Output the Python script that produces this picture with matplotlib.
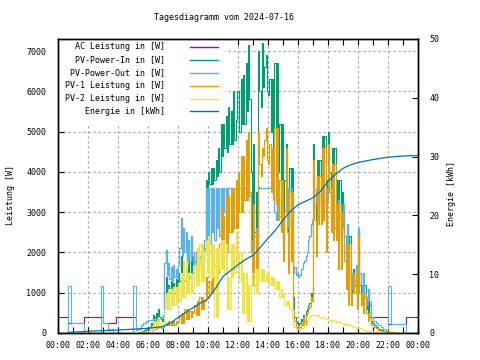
import numpy as np
import matplotlib
matplotlib.use("Agg")
import matplotlib.pyplot as plt
from matplotlib.lines import Line2D
from matplotlib.patches import Rectangle
from matplotlib.ticker import MultipleLocator, FuncFormatter

plt.rcParams["font.family"] = ["DejaVu Sans Mono"]
plt.rcParams["font.size"] = 6

title = "Tagesdiagramm vom 2024-07-16"
labels = ["AC Leistung in [W]", "PV-Power-In in [W]", "PV-Power-Out in [W]",
          "PV-1 Leistung in [W]", "PV-2 Leistung in [W]", "Energie in [kWh]"]
colors = ["#9400d3", "#009e73", "#56b4e9", "#e69f00", "#f0e442", "#0072b2"]

# 5-Minuten-Werte 00:00 .. 24:00 (eine Zeile = eine Stunde)
ac_leistung = [
    390, 390, 390, 390, 390, 390, 390, 390, 250, 250, 250, 250,
    250, 250, 250, 250, 250, 250, 250, 250, 250, 390, 390, 390,
    390, 390, 390, 390, 390, 390, 390, 390, 390, 390, 390, 390,
    250, 250, 250, 250, 250, 250, 250, 250, 250, 250, 390, 390,
    390, 390, 390, 390, 390, 390, 390, 390, 390, 390, 390, 390,
    390, 390, 80, 80, 100, 100, 200, 200, 250, 250, 300, 300,
    320, 320, 330, 330, 390, 390, 390, 390, 390, 390, 390, 400,
    450, 1730, 2050, 1450, 1750, 1350, 1650, 1300, 1700, 1400, 1600, 1350,
    1700, 2100, 2850, 1900, 2600, 2000, 2500, 1700, 2300, 1800, 2400, 1900,
    1700, 2000, 1600, 2100, 1700, 1900, 1600, 2000, 1800, 2300, 3620, 2300,
    3600, 2200, 3600, 2500, 3600, 2300, 3600, 2600, 3600, 2400, 3600, 2800,
    3600, 3000, 3600, 3400, 3600, 3600, 3600, 3600, 3500, 3600, 3600, 3600,
    3600, 3600, 3500, 3600, 3600, 3600, 3600, 3600, 3600, 3400, 2000, 2300,
    2100, 2400, 2600, 2200, 3620, 3600, 3600, 3600, 3600, 3600, 3600, 3600,
    3600, 3600, 3600, 3600, 3600, 3000, 2800, 3500, 3400, 2900, 2600, 3200,
    2200, 3000, 3600, 3600, 2600, 3600, 3600, 2500, 1500, 1650, 1450, 1500,
    1400, 1450, 1600, 1600, 1750, 1800, 1900, 2000, 2300, 2400, 2700, 2800,
    2850, 3200, 3600, 3600, 3000, 3400, 3600, 3600, 3500, 3300, 3100, 3600,
    3600, 3500, 2800, 3200, 3500, 2600, 3000, 2600, 3300, 2900, 2400, 2800,
    3200, 2400, 1800, 2700, 2200, 1400, 1100, 1500, 1100, 1300, 1700, 1000,
    2600, 1500, 1200, 1000, 1500, 900, 900, 700, 1100, 400, 400, 400,
    400, 400, 400, 400, 400, 400, 400, 400, 400, 400, 400, 400,
    230, 230, 230, 230, 230, 230, 230, 230, 230, 230, 230, 230,
    230, 230, 390, 390, 390, 390, 390, 390, 390, 390, 390, 390,
    390]

pv_in = [0] * 60 + [
    0, 0, 0, 0, 10, 20, 30, 50, 60, 80, 90, 100,
    100, 150, 250, 200, 450, 300, 500, 350, 600, 400, 350, 300,
    400, 1000, 1400, 900, 1200, 1000, 1300, 950, 1250, 1000, 1350, 1100,
    1500, 1300, 1900, 1400, 1700, 1300, 1800, 1300, 1900, 1400, 2000, 1500,
    1500, 1800, 1400, 2000, 1400, 1900, 1500, 1900, 1600, 2100, 3800, 3600,
    4000, 3700, 4100, 3700, 4100, 3800, 4300, 3900, 4600, 4000, 5200, 4400,
    5200, 4600, 5400, 4500, 5600, 4700, 5500, 4700, 6000, 4800, 5300, 6000,
    6000, 5000, 6300, 5200, 6400, 5200, 6700, 5500, 7150, 5800, 4000, 2200,
    4700, 2500, 3500, 2500, 7000, 6000, 5600, 7200, 6100, 6600, 6900, 6000,
    5900, 6300, 5000, 6300, 4500, 6700, 4200, 6700, 4000, 5200, 3500, 5200,
    2500, 3800, 4700, 3300, 2200, 4100, 2000, 4100, 900, 400, 300, 250,
    200, 250, 350, 300, 450, 300, 550, 600, 700, 750, 1000, 900,
    4700, 3200, 2500, 4300, 3000, 4300, 3200, 4900, 3200, 4900, 2400, 3800,
    5000, 4000, 3000, 4600, 2800, 4600, 2800, 3800, 2200, 3800, 2200, 3500,
    2800, 2000, 1300, 2400, 900, 2400, 900, 1200, 1600, 1200, 1600, 700,
    2500, 1200, 900, 1200, 600, 1200, 600, 700, 400, 700, 300, 250,
    250, 200, 150, 150, 100, 100, 80, 80, 50, 50, 30, 30,
    20, 20, 20, 20, 20, 20, 0, 0, 0, 0, 0, 0,
] + [0] * 13

pv_out = [
    0, 0, 0, 0, 0, 0, 0, 0, 1170, 1170, 250, 250,
    250, 250, 250, 250, 250, 250, 250, 250, 250, 0, 0, 0,
    0, 0, 0, 0, 0, 0, 0, 0, 0, 0, 1170, 1170,
    250, 250, 250, 250, 100, 100, 100, 100, 0, 0, 0, 0,
    0, 0, 0, 0, 0, 0, 0, 0, 0, 0, 0, 0,
    1170, 1170, 80, 80, 100, 100, 200, 200, 250, 250, 300, 300,
    320, 320, 330, 330, 340, 350, 360, 370, 380, 380, 390, 400,
    450, 1730, 2050, 1450, 1750, 1350, 1650, 1300, 1700, 1400, 1600, 1350,
    1700, 2100, 2850, 1900, 2600, 2000, 2500, 1700, 2300, 1800, 2400, 1900,
    1700, 2000, 1600, 2100, 1700, 1900, 1600, 2000, 1800, 2300, 3600, 2300,
    3600, 2200, 3600, 2500, 3600, 2300, 3600, 2600, 3600, 2400, 3600, 2800,
    3600, 3000, 3600, 3400, 3600, 3600, 3600, 3600, 3500, 3600, 3600, 3600,
    3600, 3600, 3500, 3600, 3600, 3600, 3600, 3600, 3600, 3400, 2000, 2300,
    2100, 2400, 2600, 2200, 3600, 3600, 3600, 3600, 3600, 3600, 3600, 3600,
    3600, 3600, 3600, 3600, 3600, 3000, 2800, 3500, 3400, 2900, 2600, 3200,
    2200, 3000, 3600, 3600, 2600, 3600, 3600, 2500, 1500, 1650, 1450, 1500,
    1400, 1450, 1600, 1600, 1750, 1800, 1900, 2000, 2300, 2400, 2700, 2800,
    2850, 3200, 3600, 3600, 3000, 3400, 3600, 3600, 3500, 3300, 3100, 3600,
    3600, 3500, 2800, 3200, 3500, 2600, 3000, 2600, 3300, 2900, 2400, 2800,
    3200, 2400, 1800, 2700, 2200, 1400, 1100, 1500, 1100, 1300, 1700, 1000,
    2600, 1500, 1200, 1000, 1500, 900, 900, 700, 1100, 800, 400, 400,
    300, 300, 250, 250, 200, 200, 150, 150, 100, 100, 80, 80,
    1170, 1170, 230, 230, 230, 230, 230, 230, 230, 230, 230, 230,
    230, 230, 0, 0, 0, 0, 0, 0, 0, 0, 0, 0,
    0]

pv1 = [0] * 60 + [
    0, 0, 0, 0, 10, 10, 20, 20, 30, 30, 40, 40,
    40, 40, 60, 60, 100, 100, 120, 120, 150, 150, 130, 130,
    150, 200, 250, 200, 300, 200, 300, 200, 300, 200, 300, 250,
    300, 450, 250, 500, 250, 600, 350, 600, 350, 550, 400, 550,
    500, 700, 450, 800, 450, 900, 600, 900, 600, 800, 1400, 900,
    900, 1300, 1000, 1500, 1000, 1700, 1200, 1700, 1500, 2200, 3100, 2200,
    2900, 2000, 3400, 2000, 3400, 2500, 3600, 2500, 3600, 2600, 3800, 2600,
    4000, 3000, 4400, 3000, 4400, 3300, 4800, 3300, 5000, 3500, 2000, 1200,
    3200, 1200, 2500, 1200, 5000, 4200, 3900, 4600, 4400, 4800, 5100, 4300,
    4200, 4700, 3500, 4600, 3300, 5100, 3200, 5100, 2800, 3800, 2500, 3800,
    1800, 3000, 4600, 2500, 1500, 3500, 1800, 3500, 600, 300, 150, 120,
    100, 150, 250, 200, 400, 200, 450, 500, 600, 650, 900, 800,
    4300, 2800, 1900, 3900, 2700, 3900, 2700, 4600, 2800, 4600, 2000, 3300,
    4700, 3600, 2500, 4200, 2300, 4200, 2300, 3200, 1600, 3200, 1600, 3000,
    2600, 1800, 1100, 2200, 700, 2200, 700, 1000, 1500, 1000, 1500, 600,
    2400, 1000, 700, 1000, 500, 1000, 500, 500, 300, 500, 200, 200,
    200, 160, 120, 120, 80, 80, 60, 60, 40, 40, 30, 30,
    20, 20, 20, 20, 20, 20, 0, 0, 0, 0, 0, 0,
] + [0] * 13

pv2 = [0] * 60 + [
    0, 0, 0, 0, 5, 10, 15, 20, 25, 30, 35, 40,
    50, 50, 150, 100, 300, 150, 300, 150, 400, 250, 200, 200,
    200, 600, 1000, 600, 1100, 600, 1100, 700, 1150, 700, 1150, 800,
    1250, 800, 1500, 900, 1800, 900, 1800, 1000, 1500, 1000, 1500, 1000,
    1100, 1700, 1200, 2100, 1200, 2200, 1300, 2200, 1300, 2000, 2300, 1500,
    2400, 1400, 2200, 1400, 2200, 400, 2100, 400, 2100, 1600, 2300, 1600,
    2300, 1500, 2200, 600, 1400, 600, 2200, 1400, 2200, 1500, 2500, 1800,
    2000, 1300, 2000, 500, 1500, 500, 1500, 300, 1200, 300, 1200, 1500,
    1500, 1000, 1600, 1000, 1600, 1300, 1600, 1300, 1600, 1300, 1500, 1300,
    1500, 1200, 1400, 1200, 1400, 1100, 1300, 1100, 1300, 900, 1100, 900,
    1000, 700, 800, 700, 800, 600, 600, 400, 200, 150, 100, 100,
    100, 110, 120, 130, 130, 200, 200, 300, 380, 420, 440, 450,
    450, 440, 420, 440, 440, 400, 380, 400, 400, 370, 350, 350,
    350, 330, 300, 330, 330, 290, 280, 300, 300, 270, 250, 260,
    250, 230, 200, 220, 220, 190, 180, 170, 150, 140, 120, 130,
    150, 120, 100, 90, 80, 70, 60, 50, 50, 45, 40, 40,
    30, 30, 20, 20, 10, 10, 0, 0, 0, 0, 0, 0,
] + [0] * 25

energie_zeit = [0.67, 2, 4, 5, 6, 7, 7.5, 8, 8.5, 9, 9.5, 10, 10.5, 11, 11.5, 12,
                12.5, 13, 13.5, 14, 14.5, 15, 15.5, 16, 16.5, 17, 17.5, 18, 18.5,
                19, 19.5, 20, 21, 22, 23, 24]
energie = [0.1, 0.3, 0.5, 0.65, 0.8, 1.1, 1.7, 2.6, 3.5, 4.3, 5.1, 5.8, 7.6, 9.6,
           10.6, 11.6, 12.5, 13.2, 14.6, 16.1, 17.5, 19.2, 20.7, 21.8, 22.4, 23.0,
           24.1, 25.8, 27.0, 28.0, 28.6, 29.0, 29.5, 29.9, 30.1, 30.2]

t5 = np.arange(len(pv_out)) / 12.0

fig = plt.figure(figsize=(4.8, 3.6), dpi=100)
ax = fig.add_axes([58 / 480, 27 / 360, 360 / 480, 294 / 360])

for values, color in zip([ac_leistung, pv_in, pv_out, pv1, pv2], colors[:5]):
    ax.plot(t5[:len(values)], values, color=color, lw=0.8, drawstyle="steps-post", zorder=2)

ax.set_xlim(0, 24)
ax.set_ylim(0, 7300)
ax.xaxis.set_major_locator(MultipleLocator(2))
ax.xaxis.set_minor_locator(MultipleLocator(1))
ax.xaxis.set_major_formatter(FuncFormatter(lambda x, pos: f"{int(round(x)) % 24:02d}:00"))
ax.set_yticks(range(0, 8000, 1000))
ax.tick_params(axis="x", which="both", direction="in", length=4, width=0.8,
               top=True, pad=5.5)
ax.tick_params(axis="y", direction="in", length=4, width=0.8, right=False, pad=8.5)
ax.grid(True, which="major", color="#a0a0a0", linestyle=(0, (2, 2.5)), lw=0.8)
ax.set_axisbelow(True)
for s in ax.spines.values():
    s.set_linewidth(1.0)

# Legendenhintergrund verdeckt das Gitter
ax.add_patch(Rectangle((0, 0.704), 0.464, 0.296, transform=ax.transAxes,
                       facecolor="white", edgecolor="none", zorder=1))

ax2 = ax.twinx()
ax2.plot(energie_zeit, energie, color=colors[5], lw=0.9, zorder=3)
ax2.set_ylim(0, 50)
ax2.set_yticks(range(0, 60, 10))
ax2.tick_params(axis="y", direction="in", length=4, width=0.8, pad=8)
for s in ax2.spines.values():
    s.set_linewidth(1.0)

fig.text(223.5 / 480, 1 - 18 / 360, title, ha="center", va="center")
fig.text(11 / 480, 1 - 195 / 360, "Leistung [W]", rotation=90, ha="center", va="center")
fig.text(452 / 480, 1 - 194 / 360, "Energie [kWh]", rotation=90, ha="center", va="center")

for i, (lab, color) in enumerate(zip(labels, colors)):
    y = 1 - (46.7 + 12.95 * i) / 360
    fig.text(165 / 480, y, lab, ha="right", va="center")
    fig.add_artist(Line2D([190 / 480, 218 / 480], [y, y], color=color, lw=1.0,
                          transform=fig.transFigure))

fig.savefig("out.png", dpi=100)
